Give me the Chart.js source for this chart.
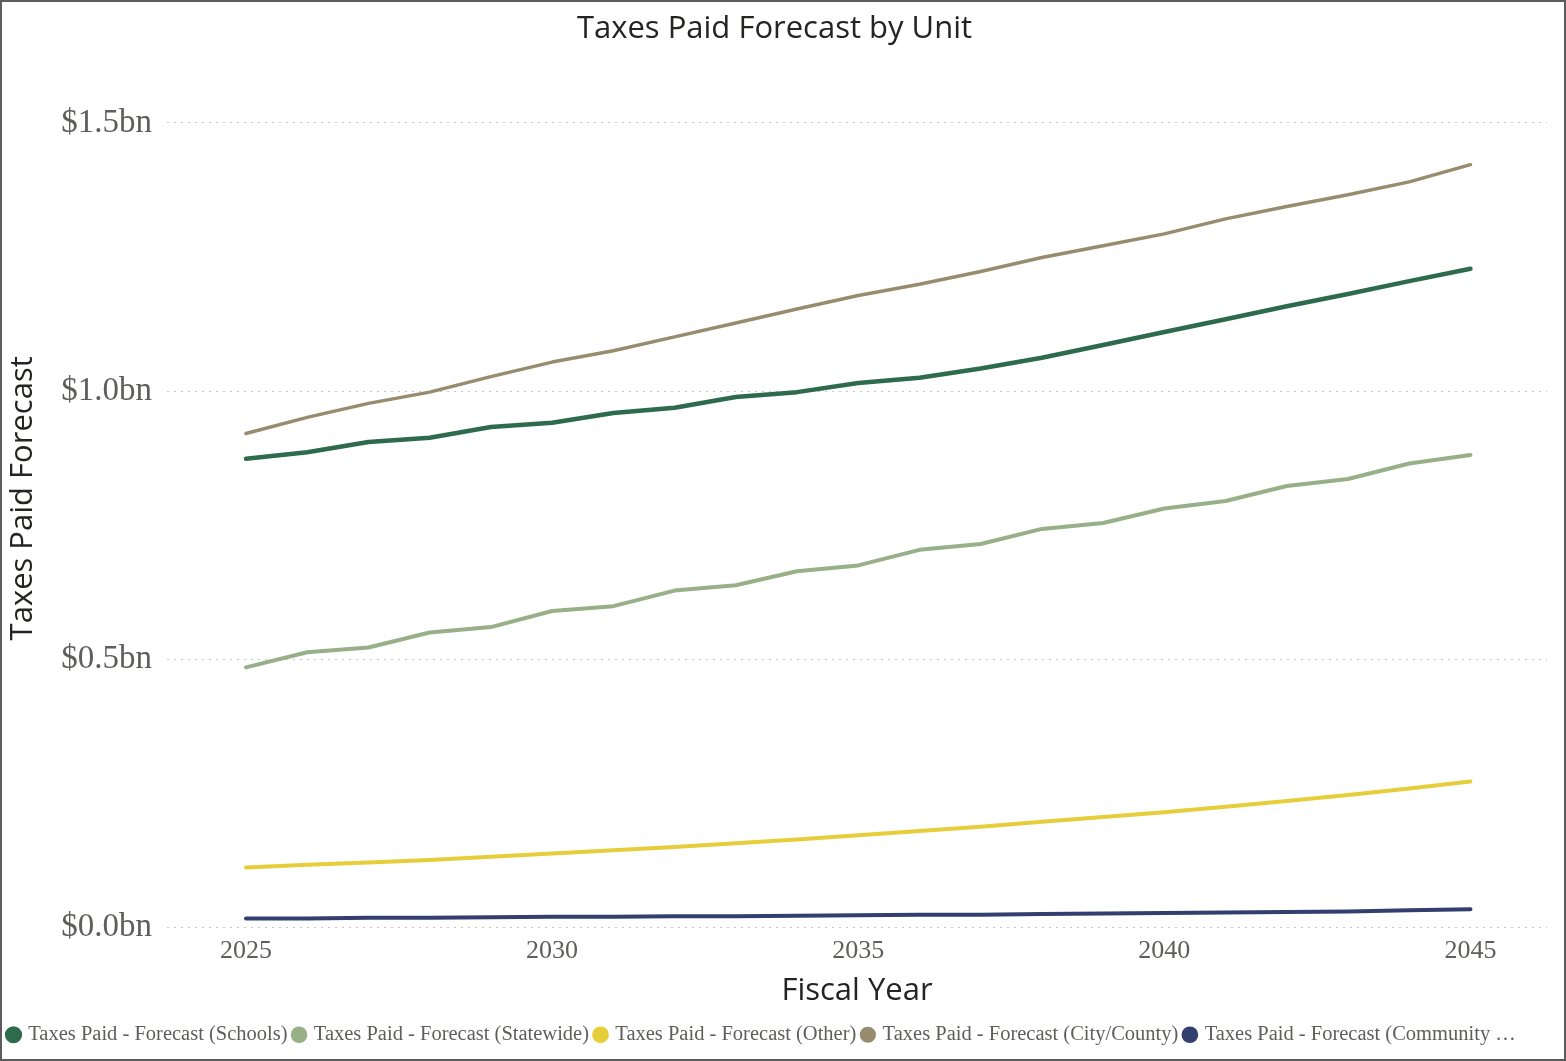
<!DOCTYPE html>
<html>
<head>
<meta charset="utf-8">
<title>Taxes Paid Forecast by Unit</title>
<script src="https://cdn.jsdelivr.net/npm/chart.js@4.4.1/dist/chart.umd.min.js"></script>
<style>
    html, body { margin: 0; padding: 0; background: #fff; }
    #frame {
        width: 1566px;
        height: 1061px;
        box-sizing: border-box;
        border: 2px solid #5c5c5c;
        position: relative;
    }
    #frame canvas { display: block; }
</style>
</head>
<body>
<div id="frame"><canvas id="taxChart" width="1562" height="1057"></canvas></div>
<script>
// Fiscal years on the x axis
const years = [2025, 2026, 2027, 2028, 2029, 2030, 2031, 2032, 2033, 2034, 2035,
               2036, 2037, 2038, 2039, 2040, 2041, 2042, 2043, 2044, 2045];

// Forecast values, in billions of dollars
const schools    = [0.874, 0.886, 0.905, 0.913, 0.933, 0.941, 0.959, 0.969, 0.989, 0.998, 1.015,
                    1.025, 1.042, 1.062, 1.086, 1.110, 1.134, 1.158, 1.181, 1.205, 1.228];
const statewide  = [0.485, 0.513, 0.522, 0.550, 0.560, 0.590, 0.599, 0.628, 0.638, 0.664, 0.675,
                    0.704, 0.715, 0.743, 0.754, 0.781, 0.795, 0.823, 0.836, 0.865, 0.881];
const other      = [0.112, 0.117, 0.121, 0.126, 0.132, 0.138, 0.144, 0.150, 0.157, 0.164, 0.172,
                    0.180, 0.188, 0.197, 0.206, 0.215, 0.225, 0.236, 0.247, 0.259, 0.272];
const cityCounty = [0.921, 0.951, 0.977, 0.998, 1.027, 1.054, 1.075, 1.101, 1.127, 1.153, 1.178,
                    1.199, 1.223, 1.249, 1.271, 1.293, 1.321, 1.344, 1.366, 1.390, 1.422];
const community  = [0.017, 0.017, 0.018, 0.018, 0.019, 0.020, 0.020, 0.021, 0.021, 0.022, 0.023,
                    0.024, 0.024, 0.025, 0.026, 0.027, 0.028, 0.029, 0.030, 0.032, 0.034];

const seriesNames = [
    'Taxes Paid - Forecast (Schools)',
    'Taxes Paid - Forecast (Statewide)',
    'Taxes Paid - Forecast (Other)',
    'Taxes Paid - Forecast (City/County)',
    'Taxes Paid - Forecast (Community \u2026'
];
const seriesColors = ['#2e6a4c', '#97b088', '#e6ce3a', '#978c6e', '#323f6f'];

const xTicks = [2025, 2030, 2035, 2040, 2045];
const yTicks = [0, 0.5, 1.0, 1.5];

const TICK_GREY = '#605e5c';
const TEXT_DARK = '#252423';
const SERIF = "'Liberation Serif', 'Times New Roman', serif";
const SANS = "'Open Sans', sans-serif";

function toPoints(values) {
    return values.map((v, i) => ({ x: years[i], y: v }));
}

function makeLine(idx, values, width) {
    return {
        label: seriesNames[idx],
        data: toPoints(values),
        borderColor: seriesColors[idx],
        backgroundColor: seriesColors[idx],
        borderWidth: width,
        borderCapStyle: 'round',
        borderJoinStyle: 'round',
        tension: 0,
        pointRadius: 0,
        pointHoverRadius: 0,
        fill: false
    };
}

const ctx = document.getElementById('taxChart').getContext('2d');

new Chart(ctx, {
    type: 'line',
    data: {
        datasets: [
            makeLine(0, schools, 4.5),
            makeLine(1, statewide, 4),
            makeLine(2, other, 4),
            makeLine(3, cityCounty, 3.5),
            makeLine(4, community, 4)
        ]
    },
    options: {
        responsive: false,
        animation: false,
        layout: { padding: { left: 0, right: 17, top: 0, bottom: 4 } },
        plugins: {
            title: {
                display: true,
                text: 'Taxes Paid Forecast by Unit',
                color: TEXT_DARK,
                font: { family: SANS, size: 31, weight: 'normal' },
                padding: { top: 9, bottom: 21 }
            },
            legend: {
                position: 'bottom',
                align: 'start',
                labels: {
                    usePointStyle: true,
                    pointStyle: 'circle',
                    boxWidth: 9,
                    boxHeight: 9,
                    padding: 7,
                    color: TICK_GREY,
                    font: { family: SERIF, size: 20.5 }
                }
            },
            tooltip: { enabled: false }
        },
        scales: {
            x: {
                type: 'linear',
                min: 2023.71,
                max: 2046.25,
                afterBuildTicks: (scale) => {
                    scale.ticks = xTicks.map(v => ({ value: v }));
                },
                afterFit: (scale) => { scale.height = 90; },
                grid: { display: false, drawTicks: false },
                border: { display: false },
                ticks: {
                    color: TICK_GREY,
                    padding: 8,
                    maxRotation: 0,
                    font: { family: SERIF, size: 26 },
                    callback: (v) => String(v)
                },
                title: {
                    display: true,
                    text: 'Fiscal Year',
                    color: TEXT_DARK,
                    font: { family: SANS, size: 31 },
                    padding: { top: 0, bottom: 8 }
                }
            },
            y: {
                min: 0,
                max: 1.6,
                afterBuildTicks: (scale) => {
                    scale.ticks = yTicks.map(v => ({ value: v }));
                },
                afterFit: (scale) => { scale.width = 165; },
                grid: {
                    color: '#c8c6c4',
                    lineWidth: 1,
                    drawTicks: false
                },
                border: { display: false, dash: [2, 5] },
                ticks: {
                    color: TICK_GREY,
                    padding: 15,
                    font: { family: SERIF, size: 33 },
                    callback: (v) => '$' + Number(v).toFixed(1) + 'bn'
                },
                title: {
                    display: true,
                    text: 'Taxes Paid Forecast',
                    color: TEXT_DARK,
                    font: { family: SANS, size: 31 },
                    padding: { top: 3, bottom: 0 }
                }
            }
        }
    }
});
</script>
</body>
</html>
